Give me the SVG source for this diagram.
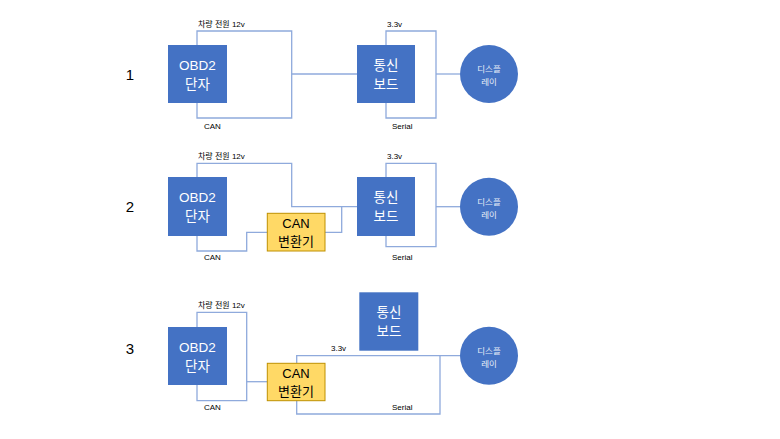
<svg xmlns="http://www.w3.org/2000/svg" width="780" height="439" viewBox="0 0 780 439">
<style>
.bg{fill:#ffffff}
.box{fill:#4472C4}
.conv{fill:#FFD966;stroke:#BF9000;stroke-width:1}
.wire{fill:none;stroke:#8FAADC;stroke-width:1.3}
.t{font-family:"Liberation Sans","Noto Sans CJK KR",sans-serif;text-anchor:middle}
.big{font-size:13.5px;fill:#ffffff}
.cv{font-size:13px;fill:#000000}
.cir{font-size:8.5px;fill:#e8eef8}
.lbl{font-family:"Liberation Sans","Noto Sans CJK KR",sans-serif;font-size:8px;fill:#000000}
.num{font-family:"Liberation Sans","Noto Sans CJK KR",sans-serif;font-size:15px;fill:#000000;text-anchor:middle}
</style>
<rect class="bg" x="0" y="0" width="780" height="439"/>
<g id="connectors">
  <path class="wire" d="M197,45 V31 H291.7 V118 H197 V103"/>
  <path class="wire" d="M291.7,74 H357"/>
  <path class="wire" d="M386,45 V31 H436 V118 H386 V103"/>
  <path class="wire" d="M436,74 H460"/>
  <path class="wire" d="M197,177 V163.3 H291.7 V206.7 H357"/>
  <path class="wire" d="M197,236 V251 H246.7 V232.3 H267.3"/>
  <path class="wire" d="M325,232.3 H341.7 V206.7"/>
  <path class="wire" d="M386,177 V163.3 H436 V246.7 H386 V236"/>
  <path class="wire" d="M436,206.7 H460"/>
  <path class="wire" d="M197,327 V312.3 H246.7 V400.7 H197 V385"/>
  <path class="wire" d="M246.7,381.7 H267.3"/>
  <path class="wire" d="M296.7,363.3 V355.7 H460"/>
  <path class="wire" d="M440,355.7 V414 H296.7 V400"/>
</g>
<g id="labels">
  <text class="num" x="130" y="80">1</text>
  <text class="num" x="130" y="212">2</text>
  <text class="num" x="130" y="354">3</text>
  <text class="lbl" x="198" y="27">차량 전원 12v</text>
  <text class="lbl" x="204" y="129">CAN</text>
  <text class="lbl" x="387" y="27">3.3v</text>
  <text class="lbl" x="392" y="129">Serial</text>
  <text class="lbl" x="198" y="159">차량 전원 12v</text>
  <text class="lbl" x="204" y="260">CAN</text>
  <text class="lbl" x="387" y="159">3.3v</text>
  <text class="lbl" x="392" y="260">Serial</text>
  <text class="lbl" x="198" y="308">차량 전원 12v</text>
  <text class="lbl" x="204" y="410">CAN</text>
  <text class="lbl" x="331" y="351">3.3v</text>
  <text class="lbl" x="392" y="410">Serial</text>
</g>
<g id="obd2-1">
  <rect class="box" x="168" y="45" width="59" height="58"/>
  <text class="t big" x="197.5" y="70">OBD2</text>
  <text class="t big" x="197.5" y="89">단자</text>
</g>
<g id="board-1">
  <rect class="box" x="357" y="45" width="58" height="58"/>
  <text class="t big" x="386" y="70">통신</text>
  <text class="t big" x="386" y="89">보드</text>
</g>
<g id="display-1">
  <circle class="box" cx="489" cy="74" r="29"/>
  <text class="t cir" x="489" y="72">디스플</text>
  <text class="t cir" x="489" y="85">레이</text>
</g>
<g id="obd2-2">
  <rect class="box" x="168" y="177" width="59" height="59"/>
  <text class="t big" x="197.5" y="202">OBD2</text>
  <text class="t big" x="197.5" y="221">단자</text>
</g>
<g id="conv-2">
  <rect class="conv" x="267.3" y="213.3" width="57.7" height="37.7"/>
  <text class="t cv" x="296" y="228">CAN</text>
  <text class="t cv" x="296" y="246">변환기</text>
</g>
<g id="board-2">
  <rect class="box" x="357" y="177" width="58" height="59"/>
  <text class="t big" x="386" y="202">통신</text>
  <text class="t big" x="386" y="221">보드</text>
</g>
<g id="display-2">
  <circle class="box" cx="489" cy="206.7" r="29"/>
  <text class="t cir" x="489" y="204.5">디스플</text>
  <text class="t cir" x="489" y="217.5">레이</text>
</g>
<g id="obd2-3">
  <rect class="box" x="168" y="327" width="59" height="58"/>
  <text class="t big" x="197.5" y="352">OBD2</text>
  <text class="t big" x="197.5" y="371">단자</text>
</g>
<g id="conv-3">
  <rect class="conv" x="267.3" y="363.3" width="57.7" height="37.4"/>
  <text class="t cv" x="296" y="378">CAN</text>
  <text class="t cv" x="296" y="396">변환기</text>
</g>
<g id="board-3">
  <rect class="box" x="359.3" y="292.3" width="59" height="58.4"/>
  <text class="t big" x="389" y="317">통신</text>
  <text class="t big" x="389" y="336">보드</text>
</g>
<g id="display-3">
  <circle class="box" cx="489" cy="355.7" r="29"/>
  <text class="t cir" x="489" y="353.5">디스플</text>
  <text class="t cir" x="489" y="366.5">레이</text>
</g>
</svg>
